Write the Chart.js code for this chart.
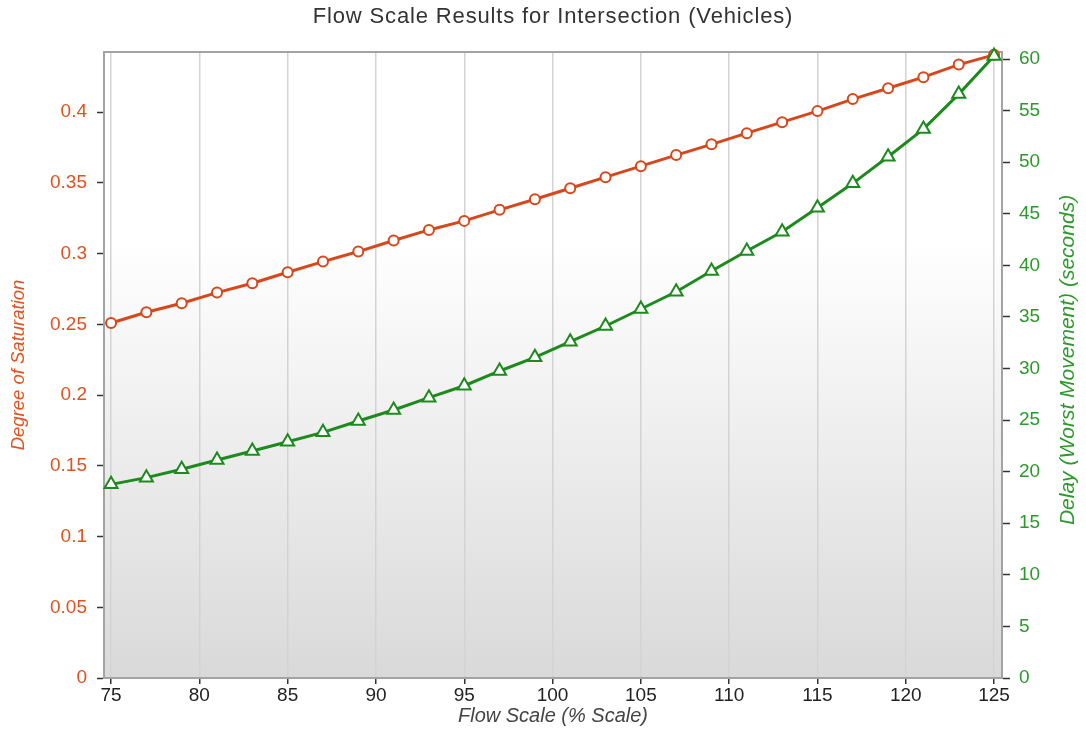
<!DOCTYPE html>
<html>
<head>
<meta charset="utf-8">
<title>Flow Scale Results</title>
<script src="https://cdn.jsdelivr.net/npm/chart.js"></script>
<style>
  body { margin: 0; background: #fff; }
</style>
</head>
<body>
<canvas id="flowChart" width="1086" height="731"></canvas>

<script>
    // values
    const flowScale = [75, 77, 79, 81, 83, 85, 87, 89, 91, 93, 95, 97, 99, 101, 103, 105, 107, 109, 111, 113, 115, 117, 119, 121, 123, 125];
    const saturation = [0.251, 0.2586, 0.265, 0.2725, 0.2791, 0.2869, 0.2944, 0.3015, 0.3093, 0.3168, 0.3232, 0.331, 0.3385,
        0.3463, 0.3541, 0.3619, 0.3697, 0.3773, 0.3852, 0.393, 0.4008, 0.4093, 0.417, 0.4248, 0.4337, 0.4406];
    const delay = [18.77, 19.42, 20.23, 21.13, 22.0, 22.9, 23.81, 24.91, 25.98, 27.17, 28.33, 29.76, 31.08,
        32.6, 34.12, 35.77, 37.44, 39.45, 41.39, 43.26, 45.59, 47.95, 50.53, 53.21, 56.6, 60.29];

    const xTicks = [75, 80, 85, 90, 95, 100, 105, 110, 115, 120, 125];
    const satTicks = [0, 0.05, 0.1, 0.15, 0.2, 0.25, 0.3, 0.35, 0.4];
    const delayTicks = [0, 5, 10, 15, 20, 25, 30, 35, 40, 45, 50, 55, 60];

    const chartTitle = 'Flow Scale Results for Intersection (Vehicles)';
    const rightTitle = 'Delay (Worst Movement) (seconds)';

    const ORANGE = '#d8461b';
    const GREEN = '#1d8a1d';
    const FONT = "'Liberation Sans', Arial, sans-serif";

    const setTicks = arr => scale => { scale.ticks = arr.map(v => ({ value: v })); };

    // gradient plot background + frame top line + title + right axis title
    const decor = {
        id: 'decor',
        beforeDraw(chart) {
            const { ctx, chartArea: a } = chart;
            const g = ctx.createLinearGradient(0, a.top, 0, a.bottom);
            g.addColorStop(0, '#ffffff');
            g.addColorStop(0.3, '#ffffff');
            g.addColorStop(1, '#d9d9d9');
            ctx.save();
            ctx.fillStyle = g;
            ctx.fillRect(a.left, a.top, a.right - a.left, a.bottom - a.top);
            ctx.restore();
        },
        beforeDatasetsDraw(chart) {
            const { ctx, chartArea: a } = chart;
            ctx.save();
            ctx.strokeStyle = '#a3a3a3';
            ctx.lineWidth = 2;
            ctx.beginPath();
            ctx.moveTo(a.left, a.top);
            ctx.lineTo(a.right, a.top);
            ctx.stroke();
            ctx.restore();
        },
        afterDraw(chart) {
            const { ctx, chartArea: a } = chart;
            ctx.save();
            ctx.fillStyle = '#333';
            ctx.font = '22px ' + FONT;
            ctx.textAlign = 'center';
            ctx.textBaseline = 'middle';
            if ('letterSpacing' in ctx) ctx.letterSpacing = '0.85px';
            ctx.fillText(chartTitle, (a.left + a.right) / 2, 17);
            if ('letterSpacing' in ctx) ctx.letterSpacing = '0px';

            ctx.translate(1068, (a.top + a.bottom) / 2 - 5);
            ctx.rotate(-Math.PI / 2);
            ctx.fillStyle = '#2a9a2a';
            ctx.font = 'italic 21px ' + FONT;
            ctx.fillText(rightTitle, 0, 0);
            ctx.restore();
        }
    };

    const ctx = document.getElementById('flowChart');
    const chart = new Chart(ctx, {
        type: 'line',
        data: {
            datasets: [
                {
                    label: 'Delay',
                    data: flowScale.map((x, i) => ({ x: x, y: delay[i] })),
                    yAxisID: 'y1',
                    order: 0,
                    borderColor: GREEN,
                    borderWidth: 3,
                    pointStyle: 'triangle',
                    pointRadius: 7.5,
                    pointBorderWidth: 2,
                    pointBackgroundColor: '#fff',
                    pointBorderColor: GREEN,
                    fill: false,
                    clip: false
                },
                {
                    label: 'Degree of Saturation',
                    data: flowScale.map((x, i) => ({ x: x, y: saturation[i] })),
                    yAxisID: 'y',
                    order: 1,
                    borderColor: ORANGE,
                    borderWidth: 3,
                    pointStyle: 'circle',
                    pointRadius: 5,
                    pointBorderWidth: 2,
                    pointBackgroundColor: '#fff',
                    pointBorderColor: ORANGE,
                    fill: false,
                    clip: false
                }
            ]
        },
        options: {
            responsive: false,
            animation: false,
            layout: { padding: { top: 52, left: 0, right: 0, bottom: 0 } },
            plugins: {
                legend: { display: false },
                title: { display: false },
                tooltip: { enabled: false }
            },
            scales: {
                x: {
                    type: 'linear',
                    min: 74.6,
                    max: 125.45,
                    afterBuildTicks: setTicks(xTicks),
                    afterFit: s => { s.height = 53; },
                    grid: { color: '#d3d3d3', lineWidth: 1.5, tickColor: '#333', tickLength: 6, tickWidth: 1.5 },
                    border: { color: '#a3a3a3', width: 2 },
                    ticks: { color: '#222', font: { family: FONT, size: 19 }, padding: 0, maxRotation: 0 },
                    title: {
                        display: true, text: 'Flow Scale (% Scale)', color: '#444',
                        font: { family: FONT, size: 20, style: 'italic' }, padding: { top: 0, bottom: 3 }
                    }
                },
                y: {
                    type: 'linear',
                    position: 'left',
                    min: 0,
                    max: 0.4426,
                    afterBuildTicks: setTicks(satTicks),
                    afterFit: s => { s.width = 104; },
                    grid: { drawOnChartArea: false, color: '#333', tickColor: '#333', tickLength: 7, tickWidth: 1.5 },
                    border: { color: '#a3a3a3', width: 2 },
                    ticks: {
                        color: '#e0521f', font: { family: FONT, size: 19 }, padding: 10,
                        callback: v => String(+v.toFixed(2))
                    },
                    title: {
                        display: true, text: 'Degree of Saturation', color: '#e0521f',
                        font: { family: FONT, size: 18.5, style: 'italic' }, padding: { top: 8, bottom: 0 }
                    }
                },
                y1: {
                    type: 'linear',
                    position: 'right',
                    min: 0,
                    max: 60.68,
                    afterBuildTicks: setTicks(delayTicks),
                    afterFit: s => { s.width = 84; },
                    grid: { drawOnChartArea: false, color: '#333', tickColor: '#333', tickLength: 8, tickWidth: 1.5 },
                    border: { color: '#a3a3a3', width: 2 },
                    ticks: { color: '#2a9a2a', font: { family: FONT, size: 19 }, padding: 9 }
                }
            }
        },
        plugins: [decor]
    });
</script>
</body>
</html>
